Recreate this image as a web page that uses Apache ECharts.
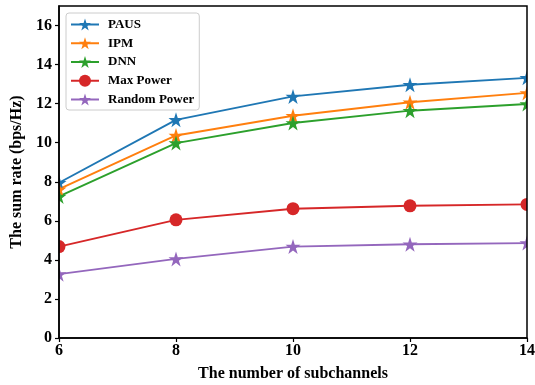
<!DOCTYPE html>
<html>
<head>
<meta charset="utf-8">
<script src="https://cdn.jsdelivr.net/npm/echarts@6/dist/echarts.min.js"></script>
<style>
  html, body { margin: 0; padding: 0; background: #fff; }
  #chart { width: 535px; height: 385px; }
</style>
</head>
<body>
<div id="chart"></div>
<script>
// Sum rate versus number of subchannels for five power allocation schemes
const subchannels = [6, 8, 10, 12, 14];
const xTicks = [6, 8, 10, 12, 14];
const yTicks = [0, 2, 4, 6, 8, 10, 12, 14, 16];

const paus = [7.95, 11.17, 12.37, 12.97, 13.32];
const ipm = [7.62, 10.37, 11.38, 12.07, 12.55];
const dnn = [7.25, 9.98, 11.01, 11.64, 11.98];
const maxPower = [4.68, 6.05, 6.62, 6.77, 6.84];
const randomPower = [3.27, 4.05, 4.68, 4.80, 4.86];

const seriesNames = ['PAUS', 'IPM', 'DNN', 'Max Power', 'Random Power'];
const seriesData = [paus, ipm, dnn, maxPower, randomPower];
const colors = ['#1f77b4', '#ff7f0e', '#2ca02c', '#d62728', '#9467bd'];

// five-pointed star marker
const star = 'path://M0,-1L0.2245,-0.309L0.951,-0.309L0.3633,0.118L0.5878,0.809L0,0.382L-0.5878,0.809L-0.3633,0.118L-0.951,-0.309L-0.2245,-0.309Z';
const font = '"Liberation Serif", "Times New Roman", serif';

const G = { left: 59, top: 6, right: 8, bottom: 47 };
const W = 535, H = 385;

const chart = echarts.init(document.getElementById('chart'), null, { renderer: 'canvas' });

const series = seriesNames.map((name, i) => ({
  name,
  type: 'line',
  data: subchannels.map((x, j) => [x, seriesData[i][j]]),
  symbol: i === 3 ? 'circle' : star,
  symbolSize: i === 3 ? 13 : 15,
  showAllSymbol: true,
  clip: false,
  z: 2,
  lineStyle: { color: colors[i], width: 1.9 },
  itemStyle: { color: colors[i], borderWidth: 0 },
  emphasis: { disabled: true },
  animation: false
}));

chart.setOption({
  animation: false,
  grid: {
    left: G.left, top: G.top, right: G.right, bottom: G.bottom,
    containLabel: false,
    outerBoundsMode: 'none'
  },
  xAxis: {
    type: 'value',
    min: 6, max: 14, interval: 2,
    z: 20,
    name: 'The number of subchannels',
    nameLocation: 'middle',
    nameGap: 28,
    nameTextStyle: { fontFamily: font, fontWeight: 'bold', fontSize: 16, color: '#000' },
    axisLine: { show: true, onZero: false, lineStyle: { color: '#000', width: 1.5 } },
    axisTick: { show: true, inside: false, length: 4, lineStyle: { color: '#000', width: 1.2 }, customValues: xTicks },
    axisLabel: { margin: 5, fontFamily: font, fontWeight: 'bold', fontSize: 16, color: '#000', customValues: xTicks },
    splitLine: { show: false }
  },
  yAxis: {
    type: 'value',
    min: 0, max: 17, interval: 2,
    z: 20,
    name: 'The sum rate (bps/Hz)',
    nameLocation: 'middle',
    nameGap: 34,
    nameRotate: 90,
    nameTextStyle: { fontFamily: font, fontWeight: 'bold', fontSize: 16, color: '#000' },
    axisLine: { show: true, onZero: false, lineStyle: { color: '#000', width: 1.5 } },
    axisTick: { show: true, inside: false, length: 4, lineStyle: { color: '#000', width: 1.2 }, customValues: yTicks },
    axisLabel: { margin: 7, fontFamily: font, fontWeight: 'bold', fontSize: 16, color: '#000', customValues: yTicks },
    splitLine: { show: false }
  },
  legend: {
    orient: 'vertical',
    left: 66, top: 13,
    itemWidth: 28,
    itemHeight: 15,
    itemGap: 5.75,
    padding: [5, 5, 4, 4],
    borderColor: '#cccccc',
    borderWidth: 1,
    borderRadius: 3,
    backgroundColor: 'rgba(255,255,255,0.8)',
    z: 30,
    textStyle: { fontFamily: font, fontWeight: 'bold', fontSize: 13, color: '#000', padding: [0, 0, 0, 4] },
    data: seriesNames
  },
  graphic: [
    // masks that trim the markers sitting on the plot edges
    { type: 'rect', z: 10, silent: true, shape: { x: 0, y: 0, width: G.left, height: H }, style: { fill: '#fff' } },
    { type: 'rect', z: 10, silent: true, shape: { x: W - G.right, y: 0, width: G.right, height: H }, style: { fill: '#fff' } },
    // plot frame
    { type: 'rect', z: 25, silent: true,
      shape: { x: G.left, y: G.top, width: W - G.left - G.right, height: H - G.top - G.bottom },
      style: { fill: 'none', stroke: '#000', lineWidth: 1.5 } }
  ],
  series
});
</script>
</body>
</html>
